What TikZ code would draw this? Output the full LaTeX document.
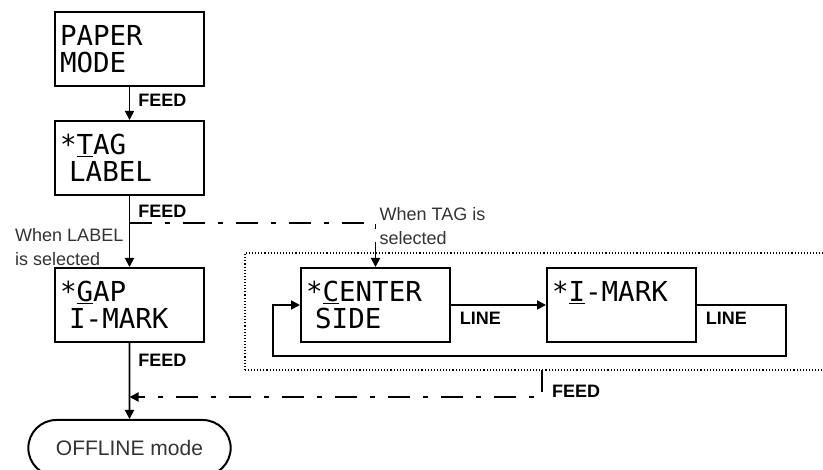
\documentclass[tikz,border=0pt]{standalone}
\usepackage{fontspec}
\setmainfont{Liberation Sans}
\newfontfamily\lcdfont{DejaVu Sans Mono}
\usetikzlibrary{arrows.meta, positioning, shapes.misc, calc}
\definecolor{notegray}{HTML}{333333}

\begin{document}
\begin{tikzpicture}[
        x=1pt, y=1pt,
        lcd/.style={rectangle, draw, line width=2pt, align=left, anchor=north west,
                    minimum width=149pt, minimum height=74pt, text width=139pt,
                    inner sep=5pt, font=\lcdfont\fontsize{27.5}{27}\selectfont},
        key/.style={font=\bfseries\fontsize{18}{20}\selectfont, inner sep=0pt},
        note/.style={align=left, text=notegray, inner sep=0pt,
                     font=\fontsize{18}{24}\selectfont},
        line/.style={line width=1.8pt, -{Triangle[length=9pt, width=9pt]}},
        altline/.style={line, dash pattern=on 22pt off 13pt on 5pt off 13pt},
        frame/.style={line width=1.1pt, dash pattern=on 1.1pt off 2pt}
    ]
    \useasboundingbox (0,0) rectangle (823,-470);
    \node [lcd] (paper) at (54,-11) {PAPER\\MODE};
    \node [lcd, below=33pt of paper] (tag) {*\underline{T}AG\\~LABEL};
    \node [lcd, below=71pt of tag] (gap) {*\underline{G}AP\\~I-MARK};
    \node [lcd, right=95pt of gap] (center) {*\underline{C}ENTER\\~SIDE};
    \node [lcd, right=95pt of center] (imark) {*\underline{I}-MARK\\~};
    \node [rounded rectangle, draw, line width=2pt, minimum width=209pt,
           minimum height=56pt, below=76pt of gap, text=notegray,
           font=\fontsize{21}{24}\selectfont] (offline) {OFFLINE mode};
    % dotted frame round the TAG settings
    \coordinate (frame bl) at ($(center.south west)+(-55,-27)$);
    \coordinate (frame tr) at ($(imark.north east)+(132,14)$);
    \draw[frame] (frame bl) rectangle (frame tr);
    \coordinate (split) at ($(tag.south)+(0,-27)$);
    \coordinate (feedout) at ($(imark.west |- frame bl)+(-4,0)$);
    \coordinate (join) at ($(gap.south)+(0,-54)$);
    \draw[line] (paper) -- (tag)
        node[key, at start, anchor=north west, xshift=8pt, yshift=-6pt] (feed1) {FEED};
    \draw[line] (tag) -- (gap)
        node[key, at start, anchor=north west, xshift=8pt, yshift=-8pt] (feed2) {FEED};
    \draw[line] (gap) -- (offline)
        node[key, at start, anchor=north west, xshift=8pt, yshift=-10pt] (feed3) {FEED};
    \draw[line] (center) -- (imark)
        node[key, at start, anchor=north west, xshift=8pt, yshift=-6pt] (line1) {LINE};
    \draw[line] (imark.east) -- ++(89,0)
        node[key, at start, anchor=north west, xshift=8pt, yshift=-6pt] (line2) {LINE}
        |- ($(center.west)+(-27,-51)$) |- (center.west);
    \draw[altline] (split) -| (center.north);
    \draw[altline] (feedout) |- (join);
    \node[key, anchor=south west] (feed4) at ($(feedout)+(10,-28)$) {FEED};
    \node[note, anchor=south east] (whenlabel) at ($(gap.north)+(-6,1)$) {When LABEL\\is selected};
    \node[note, anchor=north west] (whentag) at ($(split -| center.north)+(4,16)$) {When TAG is\\selected};
  \end{tikzpicture}
\end{document}
